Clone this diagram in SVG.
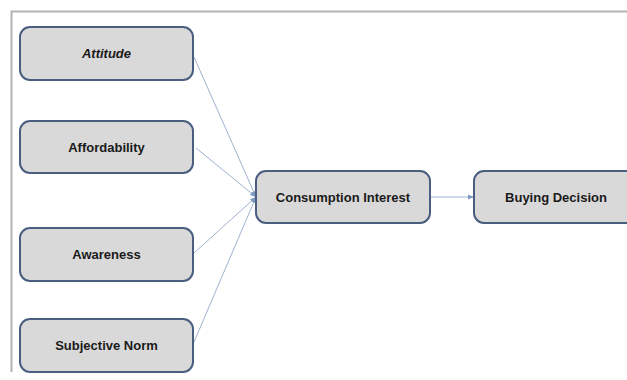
<svg xmlns="http://www.w3.org/2000/svg" width="627" height="380" viewBox="0 0 627 380">
<style>
.box{fill:#d9d9d9;stroke:#4a5f7f;stroke-width:2}
.lbl{font-family:"Liberation Sans",Arial,sans-serif;font-weight:bold;font-size:13px;fill:#1a1a1a;text-anchor:middle}
.edge{stroke:#9db3cf;stroke-width:1;fill:none}
</style>
<defs>
<marker id="ah" viewBox="0 0 10 10" refX="10" refY="5" markerWidth="6" markerHeight="6" orient="auto" markerUnits="userSpaceOnUse">
<path d="M0,1 L10,5 L0,9 z" fill="#7f9cc0"/>
</marker>
</defs>
<rect width="627" height="380" fill="#ffffff"/>
<path d="M11.5,372 V11.5 H627" fill="none" stroke="#b3b3b3" stroke-width="2"/>
<g id="connectors">
<line class="edge" x1="194" y1="57" x2="256" y2="197" marker-end="url(#ah)"/>
<line class="edge" x1="196" y1="148" x2="256" y2="197" marker-end="url(#ah)"/>
<line class="edge" x1="194" y1="253" x2="256" y2="197" marker-end="url(#ah)"/>
<line class="edge" x1="194" y1="342" x2="256" y2="197" marker-end="url(#ah)"/>
<line class="edge" x1="431" y1="197" x2="474" y2="197" marker-end="url(#ah)"/>
</g>
<g id="attitude"><rect class="box" x="20" y="27" width="173" height="53" rx="10"/><text class="lbl" x="106.5" y="58" font-style="italic">Attitude</text></g>
<g id="affordability"><rect class="box" x="20" y="121" width="173" height="52" rx="10"/><text class="lbl" x="106.5" y="152">Affordability</text></g>
<g id="awareness"><rect class="box" x="20" y="228" width="173" height="53" rx="10"/><text class="lbl" x="106.5" y="259">Awareness</text></g>
<g id="subjective-norm"><rect class="box" x="20" y="319" width="173" height="53" rx="10"/><text class="lbl" x="106.5" y="350">Subjective Norm</text></g>
<g id="consumption-interest"><rect class="box" x="256" y="171" width="174" height="52" rx="10"/><text class="lbl" x="343" y="202">Consumption Interest</text></g>
<g id="buying-decision"><rect class="box" x="474" y="171" width="162" height="52" rx="10"/><text class="lbl" x="556" y="202">Buying Decision</text></g>
</svg>
